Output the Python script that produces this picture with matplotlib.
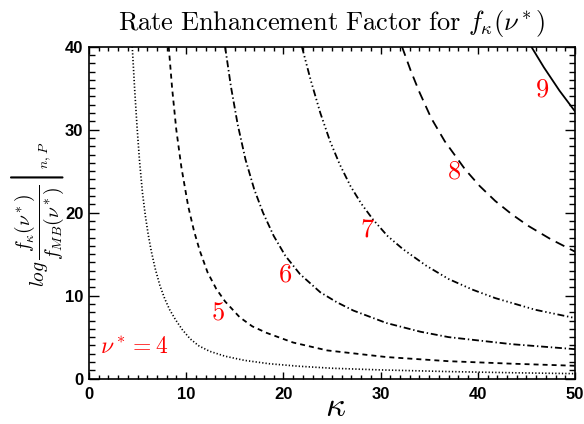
import numpy as np
import matplotlib
matplotlib.use("Agg")
import matplotlib.pyplot as plt

plt.rcParams['mathtext.fontset'] = 'cm'
plt.rcParams['lines.scale_dashes'] = False

# curves, kappa vs log(f_k/f_MB)
kappa_4 = [4.45, 4.7, 4.95, 5.2, 5.5, 5.8, 6.1, 6.4, 6.8, 7.3, 7.8, 8.3, 8.9, 9.6,
           10.4, 11.3, 12.4, 14.0, 16.0, 18.5, 21.5, 25.0, 30.0, 37.0, 44.0, 50.0]
enh_4 = [40, 34.8, 30.2, 26.2, 22.4, 19.6, 17.3, 15.4, 13.3, 11.2, 9.6, 8.3, 7.1, 5.9,
         4.8, 3.95, 3.3, 2.7, 2.2, 1.8, 1.5, 1.25, 1.05, 0.85, 0.7, 0.6]

kappa_5 = [8.2, 8.55, 8.98, 9.5, 10.2, 10.8, 11.4, 12.2, 13.1, 14.0, 15.5, 16.8,
           18.3, 21.0, 24.5, 30.6, 37.0, 43.5, 50.0]
enh_5 = [40, 35, 30, 25.5, 20.8, 17.8, 15.4, 12.8, 10.8, 9.3, 7.4, 6.3,
         5.5, 4.35, 3.4, 2.6, 2.1, 1.8, 1.55]

kappa_6 = [14.0, 14.6, 15.3, 16.1, 17.0, 17.9, 19.0, 20.2, 21.7, 23.8, 25.5, 27.2,
           30.6, 34.1, 37.0, 43.5, 50.0]
enh_6 = [40, 35.2, 30.6, 26.4, 22.8, 20.0, 17.2, 14.8, 12.6, 10.4, 9.2, 8.2,
         6.7, 5.65, 5.0, 4.15, 3.55]

kappa_7 = [21.9, 22.8, 23.8, 24.8, 25.8, 26.9, 28.0, 29.2, 30.7, 32.3, 34.7, 37.0,
           39.5, 41.8, 45.9, 50.0]
enh_7 = [40, 36, 32.0, 28.6, 25.8, 23.2, 21.1, 19.2, 17.2, 15.6, 13.6, 12.0,
         10.7, 9.7, 8.3, 7.3]

kappa_8 = [32.2, 33.1, 34.0, 35.2, 36.6, 38.7, 40.2, 41.8, 43.5, 45.2, 47.5, 50.0]
enh_8 = [40, 37.1, 34.5, 31.4, 28.6, 25.2, 23.2, 21.4, 19.8, 18.4, 16.8, 15.3]

kappa_9 = [45.5, 46.8, 48.4, 50.0]
enh_9 = [40, 37.5, 34.7, 32.2]

nu_labels = [r'$\nu^* = 4$', '$5$', '$6$', '$7$', '$8$', '$9$']
label_kappa = [4.7, 13.3, 20.2, 28.6, 37.5, 46.6]
label_enh = [3.9, 8.0, 12.6, 18.0, 25.0, 34.8]

fig = plt.figure(figsize=(5.84, 4.24), dpi=100)
ax = fig.add_axes([0.1524, 0.107, 0.8322, 0.783])

lw = 1.3
ax.plot(kappa_4, enh_4, color='k', lw=1.2, ls=(0, (0.9, 1.5)))
ax.plot(kappa_5, enh_5, color='k', lw=lw, ls=(0, (3.6, 2.9)))
ax.plot(kappa_6, enh_6, color='k', lw=lw, ls=(0, (5, 2, 1, 2)))
ax.plot(kappa_7, enh_7, color='k', lw=lw, ls=(0, (5, 2, 1, 2, 1, 2, 1, 2)))
ax.plot(kappa_8, enh_8, color='k', lw=lw, ls=(0, (7, 4.5)))
ax.plot(kappa_9, enh_9, color='k', lw=lw, ls='-')

for i in range(len(nu_labels)):
    fs = 17 if i == 0 else 19
    ax.text(label_kappa[i], label_enh[i], nu_labels[i], color='red',
            fontsize=fs, ha='center', va='center')

ax.set_xlim(0, 50)
ax.set_ylim(0, 40)
ax.set_xticks([0, 10, 20, 30, 40, 50])
ax.set_yticks([0, 10, 20, 30, 40])
ax.set_xticks(np.arange(0, 51, 1), minor=True)
ax.set_yticks(np.arange(0, 41, 1), minor=True)
ax.tick_params(which='both', direction='in', top=True, right=True, width=1)
ax.tick_params(axis='x', which='major', length=5, pad=6)
ax.tick_params(axis='x', which='minor', length=3)
ax.tick_params(axis='y', which='major', length=7, pad=4)
ax.tick_params(axis='y', which='minor', length=4)
for lab in ax.get_xticklabels() + ax.get_yticklabels():
    lab.set_fontweight('bold')
    lab.set_fontsize(12)
    lab.set_fontfamily('Liberation Sans')
for sp in ax.spines.values():
    sp.set_linewidth(1.2)

ax.set_title(r'$\mathrm{Rate\ Enhancement\ Factor\ for\ }f_\kappa(\nu^*)$',
             fontsize=19, pad=12)
fig.text(0.575, 0.042, r'$\kappa$', fontsize=25, ha='center', va='center')
fig.text(0.064, 0.495,
         r'$log\,\left.\dfrac{f_\kappa(\nu^*)}{f_{MB}(\nu^*)}\right|_{n,P}$',
         rotation=90, ha='center', va='center', fontsize=14)

fig.savefig('out.png', dpi=100)
